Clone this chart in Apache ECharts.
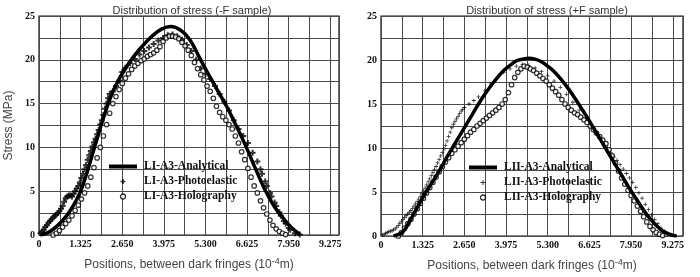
<!DOCTYPE html>
<html><head><meta charset="utf-8">
<script src="https://cdn.jsdelivr.net/npm/echarts@6/dist/echarts.min.js"></script>
<style>html,body{margin:0;padding:0;background:#fff}#c{width:700px;height:277px}</style>
</head><body><div id="c"></div>
<script>
// ---- data ----
const titles = ['Distribution of stress (-F sample)', 'Distribution of stress (+F sample)'];
const seriesNamesL = ['LI-A3-Analytical', 'LI-A3-Photoelastic', 'LI-A3-Holography'];
const seriesNamesR = ['LII-A3-Analytical', 'LII-A3-Photoelastic', 'LII-A3-Holography'];
const xTickLabels = ['0', '1.325', '2.650', '3.975', '5.300', '6.625', '7.950', '9.275'];
const yTickLabels = ['0', '5', '10', '15', '20', '25'];
const yAxisName = 'Stress (MPa)';

const anaL = [[0.05,0],[0.3,0.3],[0.6,1.1],[0.9,2.3],[1.1,3.4],[1.3,4.8],[1.5,6.8],[1.7,9.2],[1.9,11.6],[2.1,13.9],[2.3,15.9],[2.5,17.5],[2.75,19.0],[3.0,20.3],[3.3,21.6],[3.6,22.7],[3.9,23.5],[4.2,23.8],[4.5,23.4],[4.8,22.3],[5.1,20.3],[5.4,18.3],[5.7,16.4],[6.0,14.5],[6.3,12.3],[6.6,10.0],[6.9,7.5],[7.2,5.1],[7.5,3.2],[7.8,1.8],[8.05,0.8],[8.3,0.1]];
const photoL = [[0.05,0.2],[0.1,0.4],[0.15,0.6],[0.2,0.9],[0.25,1.1],[0.3,1.4],[0.35,1.6],[0.4,1.8],[0.45,2.0],[0.5,2.2],[0.55,2.3],[0.6,2.5],[0.65,2.7],[0.7,3.0],[0.75,3.3],[0.8,3.8],[0.85,4.2],[0.9,4.4],[0.95,4.5],[1.0,4.5],[1.05,4.4],[1.1,4.7],[1.15,5.0],[1.2,5.3],[1.25,5.6],[1.3,6.0],[1.35,6.5],[1.4,7.0],[1.45,7.5],[1.5,8.0],[1.55,8.6],[1.6,9.1],[1.65,9.6],[1.7,10.1],[1.75,10.6],[1.8,11.0],[1.85,11.5],[1.9,12.0],[1.95,12.6],[2.0,13.1],[2.05,13.7],[2.1,14.4],[2.15,15.0],[2.2,15.6],[2.25,16.1],[2.35,16.4],[2.45,17.0],[2.55,17.6],[2.65,18.6],[2.75,19.1],[2.9,19.6],[3.05,20.1],[3.2,20.6],[3.35,21.0],[3.5,21.4],[3.65,21.8],[3.8,22.2],[3.95,22.5],[4.1,22.8],[4.25,22.9],[4.4,22.7],[4.55,22.3],[4.7,21.7],[4.85,21.0],[5.0,20.0],[5.15,19.0],[5.3,18.4],[5.45,17.8],[5.6,17.0],[5.75,16.1],[5.9,15.2],[6.05,14.2],[6.2,13.1],[6.35,12.1],[6.5,11.3],[6.65,10.5],[6.8,9.4],[6.95,8.4],[7.05,7.5],[7.1,7.0],[7.2,6.1],[7.25,5.6],[7.35,4.8],[7.4,4.4],[7.5,3.7],[7.55,3.3],[7.65,2.6],[7.7,2.2],[7.8,1.6],[7.85,1.3],[7.95,0.8],[8.0,0.6],[8.15,0.2],[8.3,0.05]];
const holoL = [[0.45,0],[0.55,0.2],[0.65,0.5],[0.75,0.9],[0.85,1.3],[0.95,1.7],[1.05,2.2],[1.15,2.8],[1.25,3.4],[1.35,4.1],[1.45,4.8],[1.55,5.6],[1.65,6.6],[1.75,7.7],[1.85,8.8],[1.95,10.0],[2.05,11.3],[2.15,12.6],[2.25,13.9],[2.35,15.0],[2.45,15.8],[2.55,16.6],[2.65,17.3],[2.75,17.9],[2.85,18.4],[2.95,18.9],[3.05,19.3],[3.15,19.6],[3.25,19.9],[3.35,20.1],[3.45,20.4],[3.55,20.6],[3.65,20.8],[3.75,21.1],[3.85,21.5],[3.95,22.1],[4.05,22.5],[4.15,22.7],[4.25,22.7],[4.35,22.6],[4.45,22.4],[4.55,22.0],[4.65,21.6],[4.75,21.1],[4.85,20.5],[4.95,19.7],[5.05,19.0],[5.15,18.3],[5.25,17.7],[5.35,17.0],[5.45,16.4],[5.55,15.6],[5.65,14.7],[5.75,14.0],[5.85,13.5],[5.95,13.1],[6.05,12.6],[6.15,12.1],[6.25,11.3],[6.35,10.5],[6.45,9.5],[6.55,8.6],[6.65,7.6],[6.75,6.6],[6.85,5.6],[6.95,4.8],[7.05,3.9],[7.15,3.1],[7.25,2.4],[7.35,1.7],[7.45,1.1],[7.55,0.7],[7.65,0.4],[7.75,0.2],[7.85,0.05]];

const anaR = [[0.4,0],[0.7,0.5],[0.9,1.6],[1.1,2.9],[1.3,4.2],[1.5,5.4],[1.7,6.5],[1.9,7.7],[2.1,9.0],[2.3,10.2],[2.5,11.4],[2.7,12.6],[2.9,13.8],[3.1,15.0],[3.3,16.1],[3.5,17.1],[3.7,18.0],[3.9,18.8],[4.1,19.4],[4.3,19.9],[4.5,20.1],[4.7,20.2],[4.9,20.1],[5.1,19.8],[5.3,19.3],[5.5,18.7],[5.7,17.9],[5.9,17.0],[6.1,16.0],[6.3,14.9],[6.5,13.8],[6.7,12.6],[6.9,11.4],[7.1,10.2],[7.3,9.0],[7.5,7.8],[7.7,6.6],[7.9,5.4],[8.1,4.3],[8.3,3.2],[8.5,2.2],[8.7,1.4],[8.9,0.7],[9.1,0.3],[9.3,0.05],[9.4,0]];
const photoR = [[0.05,0.1],[0.1,0.2],[0.15,0.3],[0.2,0.4],[0.25,0.5],[0.3,0.55],[0.35,0.6],[0.4,0.7],[0.45,0.8],[0.5,1.0],[0.55,1.2],[0.6,1.45],[0.65,1.7],[0.7,1.9],[0.75,2.1],[0.8,2.3],[0.85,2.5],[0.9,2.7],[0.95,2.9],[1.0,3.15],[1.05,3.4],[1.1,3.65],[1.15,3.9],[1.2,4.2],[1.25,4.5],[1.3,4.8],[1.35,5.1],[1.4,5.45],[1.45,5.8],[1.5,6.15],[1.55,6.5],[1.6,6.85],[1.65,7.2],[1.7,7.55],[1.75,7.9],[1.8,8.3],[1.85,8.7],[1.9,9.1],[1.95,9.5],[2.0,9.9],[2.05,10.3],[2.1,10.8],[2.15,11.3],[2.2,11.8],[2.25,12.3],[2.3,12.7],[2.35,13.0],[2.4,13.3],[2.45,13.6],[2.5,13.9],[2.55,14.2],[2.6,14.4],[2.65,14.6],[2.8,15.0],[2.95,15.4],[3.1,15.8],[3.3,16.5],[3.5,17.3],[3.7,18.0],[3.9,18.6],[4.1,19.0],[4.3,19.3],[4.5,19.5],[4.7,19.4],[4.9,19.1],[5.1,18.7],[5.3,18.2],[5.5,17.6],[5.7,16.9],[5.9,16.1],[6.1,15.2],[6.3,14.3],[6.5,13.3],[6.7,12.3],[6.8,11.8],[6.9,11.4],[7.0,10.9],[7.1,10.5],[7.2,10.0],[7.3,9.5],[7.4,9.0],[7.5,8.6],[7.6,8.1],[7.7,7.6],[7.8,7.1],[7.9,6.6],[8.0,6.1],[8.1,5.5],[8.2,4.9],[8.3,4.3],[8.4,3.6],[8.5,3.0],[8.6,2.4],[8.7,1.9],[8.8,1.4],[8.9,0.9],[9.0,0.6],[9.1,0.3],[9.2,0.1]];
const holoR = [[0.55,0],[0.65,0.4],[0.75,0.9],[0.85,1.4],[0.95,1.9],[1.05,2.5],[1.15,3.1],[1.25,3.7],[1.35,4.3],[1.45,4.9],[1.55,5.5],[1.65,6.1],[1.75,6.7],[1.85,7.3],[1.95,7.9],[2.05,8.4],[2.15,8.9],[2.25,9.4],[2.35,9.8],[2.45,10.2],[2.55,10.6],[2.65,11.0],[2.75,11.4],[2.85,11.8],[2.95,12.1],[3.05,12.5],[3.15,12.8],[3.25,13.1],[3.35,13.4],[3.45,13.7],[3.55,14.0],[3.65,14.3],[3.75,14.6],[3.85,15.0],[3.95,15.5],[4.05,16.3],[4.15,17.2],[4.25,18.0],[4.35,18.6],[4.45,19.0],[4.55,19.3],[4.65,19.2],[4.75,19.0],[4.85,18.8],[4.95,18.5],[5.05,18.2],[5.15,17.9],[5.25,17.6],[5.35,17.2],[5.45,16.8],[5.55,16.4],[5.65,16.0],[5.75,15.5],[5.85,15.0],[5.95,14.6],[6.05,14.3],[6.15,14.0],[6.25,13.8],[6.35,13.5],[6.45,13.2],[6.55,12.9],[6.65,12.5],[6.75,12.1],[6.85,11.7],[6.95,11.3],[7.05,10.9],[7.15,10.5],[7.25,9.8],[7.35,9.1],[7.45,8.3],[7.55,7.4],[7.65,6.6],[7.75,5.9],[7.85,5.2],[7.95,4.6],[8.05,4.0],[8.15,3.4],[8.25,2.8],[8.35,2.2],[8.45,1.6],[8.55,1.1],[8.65,0.7],[8.75,0.4],[8.85,0.2],[8.95,0.05]];

// ---- styling ----
const SERIF = '"Liberation Serif","Times New Roman",serif';
const SANS = '"Liberation Sans",Arial,sans-serif';
const GRIDC = '#4a4a4a';
const plusBold = 'path://M2,0H4V2H6V4H4V6H2V4H0V2H2Z';
const plusThin = 'path://M2,0H3V2H5V3H3V5H2V3H0V2H2Z';
const lineIcon = 'path://M0,0H28V4H0Z';

const chart = echarts.init(document.getElementById('c'), null, {renderer: 'canvas'});

function xAxis(gi, max) {
  return {
    type: 'value', gridIndex: gi, min: 0, max: max, interval: 0.6625,
    axisLine: {show: false}, axisTick: {show: false},
    splitLine: {show: true, lineStyle: {color: GRIDC, width: 1}},
    axisLabel: {
      showMaxLabel: false, margin: 4, color: '#111',
      fontFamily: SERIF, fontWeight: 'bold', fontSize: 10,
      formatter: v => { const k = Math.round(v / 0.6625); return k % 2 === 0 ? (xTickLabels[k / 2] || '') : ''; }
    },
    name: '{a|Positions, between dark fringes (10}{s|-4}{a|m)}',
    nameLocation: 'middle', nameGap: 22,
    nameTextStyle: {rich: {
      a: {fontFamily: SANS, fontSize: 12, color: '#444', lineHeight: 16},
      s: {fontFamily: SANS, fontSize: 9, color: '#444', verticalAlign: 'top', lineHeight: 10}
    }}
  };
}
function yAxis(gi, withName) {
  const a = {
    type: 'value', gridIndex: gi, min: 0, max: 25, interval: 2.5,
    axisLine: {show: false}, axisTick: {show: false},
    splitLine: {show: true, lineStyle: {color: GRIDC, width: 1}},
    axisLabel: {
      margin: 4, color: '#111', fontFamily: SERIF, fontWeight: 'bold', fontSize: 10,
      formatter: v => { const k = Math.round(v / 2.5); return k % 2 === 0 ? (yTickLabels[k / 2] || '') : ''; }
    }
  };
  if (withName) {
    a.name = yAxisName; a.nameLocation = 'middle'; a.nameGap = 24;
    a.nameTextStyle = {fontFamily: SANS, fontSize: 12, color: '#444'};
  }
  return a;
}
function seriesSet(names, ana, photo, holo, gi, plus, plusSize) {
  return [
    {name: names[1], type: 'scatter', xAxisIndex: gi, yAxisIndex: gi, data: photo,
     symbol: plus, symbolSize: plusSize, itemStyle: {color: '#000'}, z: 3},
    {name: names[2], type: 'scatter', xAxisIndex: gi, yAxisIndex: gi, data: holo,
     symbol: 'circle', symbolSize: 4.5, itemStyle: {color: '#fff', borderColor: '#000', borderWidth: 1.2}, z: 4},
    {name: names[0], type: 'line', xAxisIndex: gi, yAxisIndex: gi, data: ana, smooth: 0.4,
     showSymbol: false, symbol: 'none', lineStyle: {color: '#000', width: 3.5}, z: 5}
  ];
}
function legend(names, left, top, plus) {
  return {
    orient: 'vertical', left: left, top: top, itemWidth: 28, itemHeight: 5, itemGap: 2,
    selectedMode: false, symbolKeepAspect: true,
    textStyle: {fontFamily: SERIF, fontWeight: 'bold', fontSize: 11.5, color: '#111', lineHeight: 13, padding: [0,0,0,2]},
    data: [
      {name: names[0], icon: lineIcon, itemStyle: {color: '#000'}},
      {name: names[1], icon: plus, itemStyle: {color: '#000'}},
      {name: names[2], icon: 'circle', itemStyle: {color: '#fff', borderColor: '#000', borderWidth: 1.3}}
    ]
  };
}

chart.setOption({
  animation: false,
  backgroundColor: '#fff',
  title: [
    {text: titles[0], left: 187, top: 0, textAlign: 'center',
     textStyle: {fontFamily: SANS, fontWeight: 'normal', fontSize: 11, color: '#333'}},
    {text: titles[1], left: 542, top: 0, textAlign: 'center',
     textStyle: {fontFamily: SANS, fontWeight: 'normal', fontSize: 11, color: '#333'}}
  ],
  grid: [
    {left: 39, top: 16, width: 300, height: 219, show: true, borderColor: '#111', borderWidth: 1.2, backgroundColor: 'transparent'},
    {left: 381, top: 16, width: 302, height: 220, show: true, borderColor: '#111', borderWidth: 1.2, backgroundColor: 'transparent'}
  ],
  xAxis: [xAxis(0, 9.55), xAxis(1, 9.6)],
  yAxis: [yAxis(0, true), yAxis(1, false)],
  legend: [legend(seriesNamesL, 104, 155, plusBold), legend(seriesNamesR, 464, 156, plusThin)],
  series: [].concat(
    seriesSet(seriesNamesL, anaL, photoL, holoL, 0, plusBold, 6),
    seriesSet(seriesNamesR, anaR, photoR, holoR, 1, plusThin, 4)
  )
});
</script>
</body></html>
